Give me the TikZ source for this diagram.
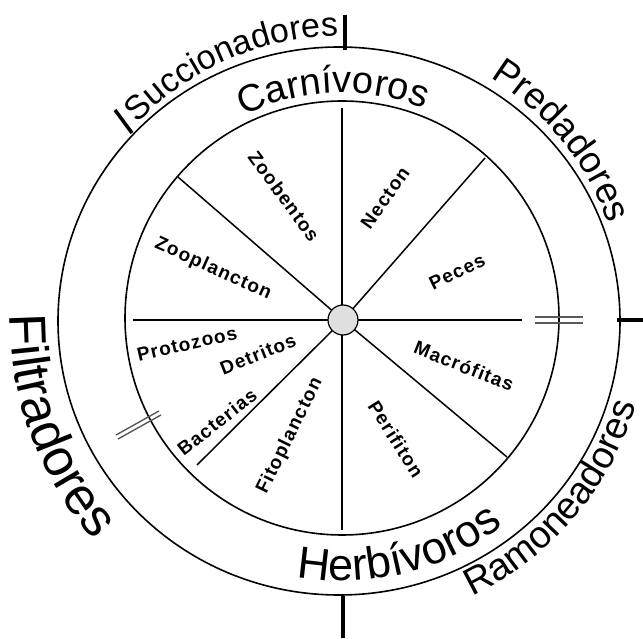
\documentclass[tikz,border=0pt]{standalone}
\usepackage{fontspec}
\setmainfont{Liberation Sans}
\newfontfamily\labfont[LetterSpace=6]{Liberation Sans Bold}
\usetikzlibrary{decorations.text}
\newcommand\ringtext[5]{%
  \path[decorate, decoration={text along path, text align=center,
    text={|\fontsize{#4}{#4}\selectfont|#5}}]
    (C) ++(#2:#1pt) arc[start angle=#2, end angle=#3, radius=#1pt];}
\tikzset{
  ringline/.style={line width=1.6pt},
  spoke/.style={line width=1.5pt},
  tickmark/.style={line width=3.5pt},
  lab/.style={font=\labfont\fontsize{19}{19}\selectfont, inner sep=0pt},
  dmark/.style={line width=1.4pt, draw=gray!70!black},
}
\begin{document}
\begin{tikzpicture}[x=1pt,y=1pt]
\useasboundingbox (0,0) rectangle (643,638);
\coordinate (C) at (342,319);
% circles
\draw[ringline] (339,317) ellipse [x radius=281pt, y radius=274pt];
\draw[ringline] (342,320) circle [radius=217pt];
% hub
\coordinate (hub) at (343,318);
\coordinate (sN) at (342,530);
\coordinate (sS) at (342,108);
\coordinate (sW) at (133,318);
\coordinate (sE) at (522,318);
\coordinate (sNW) at (178,461);
\coordinate (sNE) at (485,480);
\coordinate (sSE) at (507,181);
\coordinate (sSW) at (197,173);
\draw[spoke] (sN) -- (sS);
\draw[spoke] (sW) -- (sE);
\foreach \p in {sNW,sNE,sSE,sSW} \draw[spoke] (hub) -- (\p);
\node[circle, draw, line width=1.2pt, fill=gray!25, minimum size=30pt, inner sep=0pt] (dot) at (hub) {};
% ticks
\coordinate (t1a) at (345,623); \coordinate (t1b) at (345,588);
\coordinate (t2a) at (343,42);  \coordinate (t2b) at (343,0);
\coordinate (t3a) at (617,318); \coordinate (t3b) at (643,318);
\coordinate (t4a) at (115,528); \coordinate (t4b) at (132,505);
\draw[tickmark] (t1a) -- (t1b);
\draw[tickmark] (t2a) -- (t2b);
\draw[tickmark] (t3a) -- (t3b);
\draw[tickmark] (t4a) -- (t4b);
% double marks
\coordinate (d1a) at (535,321); \coordinate (d1b) at (583,321);
\coordinate (d2a) at (535,315); \coordinate (d2b) at (583,315);
\draw[dmark] (d1a) -- (d1b);
\draw[dmark] (d2a) -- (d2b);
\coordinate (d3a) at (116,203); \coordinate (d3b) at (159,227);
\coordinate (d4a) at (118,199); \coordinate (d4b) at (161,223);
\draw[dmark] (d3a) -- (d3b);
\draw[dmark] (d4a) -- (d4b);
% ring texts
\ringtext{226}{132.3}{52.3}{38}{Carnívoros}
\ringtext{262}{244}{324}{45}{Herbívoros}
\ringtext{283}{163.5}{63.5}{34}{Succionadores}
\ringtext{283}{89}{-11}{37}{Predadores}
\ringtext{306}{-90}{9}{38}{Ramoneadores}
\ringtext{332}{155.5}{245.5}{52}{Filtradores}
% inner labels
\node[lab, rotate=-53.7] (zoob) at (284,442) {Zoobentos};
\node[lab, rotate=-24.2] (zoopl) at (213,369) {Zooplancton};
\node[lab, rotate=54.7] (nect) at (385,440) {Necton};
\node[lab, rotate=25.8] (pec) at (457,366) {Peces};
\node[lab, rotate=13] (prot) at (187,294) {Protozoos};
\node[lab, rotate=21.8] (detr) at (258,284) {Detritos};
\node[lab, rotate=38] (bact) at (217,216) {Bacterias};
\node[lab, rotate=63.8] (fito) at (290,202) {Fitoplancton};
\node[lab, rotate=-57.6] (peri) at (396,199) {Perifiton};
\node[lab, rotate=-21.7] (macr) at (464,272) {Macrófitas};
\end{tikzpicture}
\end{document}
